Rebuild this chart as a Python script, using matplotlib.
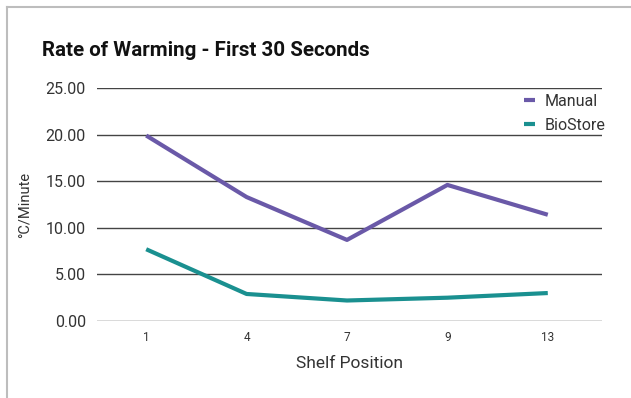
import matplotlib.pyplot as plt
from matplotlib.lines import Line2D

# данные
shelves = ["1", "4", "7", "9", "13"]
manual = [19.9, 13.3, 8.7, 14.6, 11.4]
biostore = [7.7, 2.9, 2.2, 2.5, 3.0]
y_ticks = [0, 5, 10, 15, 20, 25]

plt.rcParams['font.family'] = ['Roboto', 'DejaVu Sans']

fig = plt.figure(figsize=(6.31, 3.98), dpi=100)
ax = fig.add_axes([97 / 631, 1 - 321 / 398, 505 / 631, 233 / 398])

x = range(len(shelves))
ax.plot(x, manual, color='#6a59a8', lw=3, label='Manual', solid_capstyle='butt')
ax.plot(x, biostore, color='#1a9090', lw=3, label='BioStore', solid_capstyle='butt')

ax.set_xlim(-0.49, 4.54)
ax.set_ylim(0, 25)
ax.set_xticks(list(x))
ax.set_xticklabels(shelves, fontsize=8.5, color='#333333')
ax.set_yticks(y_ticks)
ax.set_yticklabels([f"{v:.2f}" for v in y_ticks], fontsize=11.5, color='#333333')
ax.tick_params(axis='both', length=0)
ax.tick_params(axis='y', pad=8)
ax.tick_params(axis='x', pad=7)
ax.grid(axis='y', color='#444444', lw=1)
ax.set_axisbelow(True)
for s in ax.spines.values():
    s.set_visible(False)

ax.set_xlabel('Shelf Position', fontsize=12.5, color='#333333', labelpad=9)
ax.set_ylabel('°C/Minute', fontsize=10.5, color='#333333', labelpad=10)

ax.legend(loc='upper right', bbox_to_anchor=(1.035, 1.037), frameon=False,
          fontsize=11.5, handlelength=0.7, handletextpad=0.6, labelspacing=0.55,
          labelcolor='#333333')

fig.text(42 / 631, 1 - 50 / 398, 'Rate of Warming - First 30 Seconds',
         fontsize=14.8, fontweight='bold', color='#111111', va='center')

# серая рамка сверху и слева
fig.add_artist(Line2D([6.5 / 631, 6.5 / 631], [0, 1 - 7 / 398], color='#bdbdbd', lw=1.5))
fig.add_artist(Line2D([6.5 / 631, 1], [1 - 7 / 398, 1 - 7 / 398], color='#bdbdbd', lw=1.5))

fig.savefig('out.png', dpi=100)
